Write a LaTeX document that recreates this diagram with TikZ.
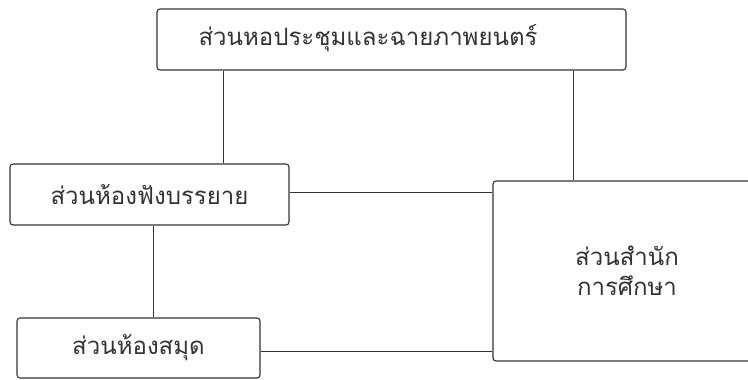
\documentclass[tikz,border=0pt]{standalone}
\usepackage{fontspec}
\newfontfamily\thaifont[Script=Thai]{Loma}
\begin{document}
\begin{tikzpicture}[x=1pt,y=-1pt,
  box/.style={draw=black!80,line width=1.1pt,rounded corners=3pt,inner sep=0pt,font=\thaifont\fontsize{24}{30}\selectfont,text=black!80,align=center},
  lbl/.style={font=\thaifont\fontsize{24}{30}\selectfont,text=black!80,inner sep=0pt},
  conn/.style={draw=black!80,line width=1pt}]
\useasboundingbox (0,0) rectangle (748,380);
\clip (0,0) rectangle (748,380);
\node[box,minimum width=469pt,minimum height=61pt] (top) at (391.5,39.5) {};
\node[lbl] (toplbl) at (368,38) {ส่วนหอประชุมและฉายภาพยนตร์};
\node[box,minimum width=279pt,minimum height=61pt] (lec) at (149.5,194.5) {ส่วนห้องฟังบรรยาย};
\node[box,minimum width=243pt,minimum height=60pt] (lib) at (138.5,348) {ส่วนห้องสมุด};
\node[box,minimum width=268pt,minimum height=180pt] (edu) at (627,271) {ส่วนสำนัก\\การศึกษา};
\coordinate (t1) at (223,70);
\coordinate (t2) at (573,70);
\draw[conn] (top.south -| t1) -- (lec.north -| t1);
\draw[conn] (top.south -| t2) -- (edu.north -| t2);
\draw[conn] (lec.east |- 0,192) -- (edu.west |- 0,192);
\draw[conn] (lec.south -| 153,0) -- (lib.north -| 153,0);
\draw[conn] (lib.east |- 0,351) -- (edu.west |- 0,351);
\end{tikzpicture}
\end{document}
